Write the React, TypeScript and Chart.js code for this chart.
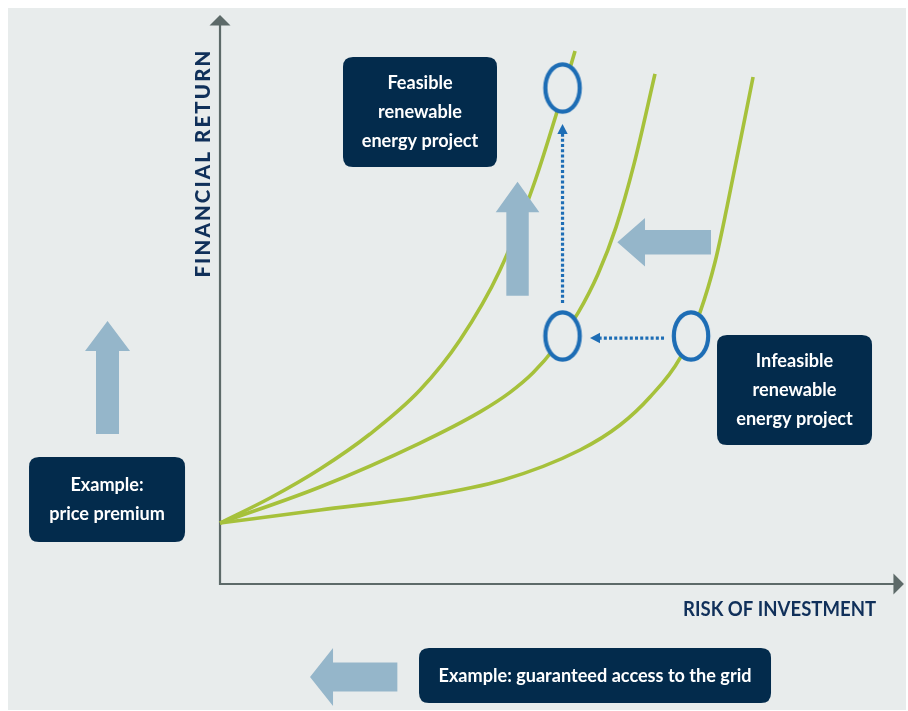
import React, { useEffect, useRef } from 'react';
import { Chart, registerables } from 'chart.js';

Chart.register(...registerables);

// ---------- data (x = risk of investment, y = financial return, 0–100 units at the axis arrows) ----------
const riskRange = [-31, 100.3];
const returnRange = [-22.14, 101.23];

const curve1Risk = [0, 7.31, 14.62, 21.93, 29.24, 35.09, 40.94, 46.06, 49.13, 51.91];
const curve1Return = [10.72, 15.11, 20.21, 26.36, 34.09, 42.88, 55.18, 70.83, 82.43, 93.67];

const curve2Risk = [0, 14.62, 29.24, 38.02, 42.4, 45.77, 48.98, 52.35, 55.27, 57.9, 60.53, 63.6];
const curve2Return = [10.72, 17.05, 24.78, 30.26, 33.69, 37.13, 41.57, 47.64, 54.49, 62.72, 73.79, 89.66];

const curve3Risk = [0, 14.62, 29.24, 41.38, 52.64, 58.49, 62.87, 67.26, 70.19, 72.38, 74.13, 77.94];
const curve3Return = [10.72, 13.01, 15.29, 18.28, 23.55, 27.94, 32.86, 39.72, 47.8, 56.59, 66.26, 89.1];

const projectRisk = [50.08, 50.08, 68.87];
const projectReturn = [87.17, 43.59, 43.59];

const shiftFromRisk = [50.08, 64.92];
const shiftFromReturn = [49.38, 43.23];
const shiftToRisk = [50.08, 54.1];
const shiftToReturn = [80.84, 43.23];

const policyFromRisk = [43.5, 71.79, -16.45, 25.93];
const policyFromReturn = [50.67, 60.05, 26.36, -16.34];
const policyToRisk = [43.5, 58.09, -16.45, 13.16];
const policyToReturn = [70.7, 60.05, 46.22, -16.34];

const boxRisk = [29.24, 84.0, -16.52, 54.83];
const boxReturn = [82.95, 34.09, 14.85, -16.08];
const boxLines = [
  ['Feasible', 'renewable', 'energy project'],
  ['Infeasible', 'renewable', 'energy project'],
  ['Example:', 'price premium'],
  ['Example: guaranteed access to the grid'],
];

const xAxisTitle = 'RISK OF INVESTMENT';
const yAxisTitle = 'FINANCIAL RETURN';
const xTitleAt = [95.92, -4.39];
const yTitleAt = [-2.49, 73.8];

// ---------- styles ----------
const BG = '#e8ecec';
const GREEN = '#a6c13b';
const NAVY = '#032b4c';
const ARROW_BLUE = '#95b6ca';
const DOT_BLUE = '#1d6db5';
const AXIS = '#5d6a69';
const LABEL = '#10305a';

const boxW = [154, 155, 156, 352];
const boxH = [110, 110, 85, 55];
const boxLineGap = 29;
const arrowHeadLen = [30.6, 27.7, 30, 23];
const arrowHeadHalf = [21.8, 24.2, 22.5, 29];
const arrowShaftHalf = [11.2, 12.2, 11.5, 14.5];

const BOX_FONT = '700 19.5px Lato, "Open Sans", sans-serif';
const XTITLE_FONT = '700 21px Lato, "Open Sans", sans-serif';
const YTITLE_FONT = '900 20.5px Lato, "Open Sans", sans-serif';

const pts = (xs: number[], ys: number[]) => xs.map((x, i) => ({ x, y: ys[i] }));

function makeRing() {
  const c = document.createElement('canvas');
  c.width = 44;
  c.height = 56;
  const g = c.getContext('2d')!;
  g.beginPath();
  g.ellipse(22, 28, 17.2, 23.6, 0, 0, Math.PI * 2);
  g.fillStyle = BG;
  g.fill();
  g.lineWidth = 4.2;
  g.strokeStyle = DOT_BLUE;
  g.stroke();
  return c;
}

function roundRect(ctx: CanvasRenderingContext2D, x: number, y: number, w: number, h: number, r: number) {
  ctx.beginPath();
  ctx.moveTo(x + r, y);
  ctx.lineTo(x + w - r, y);
  ctx.quadraticCurveTo(x + w, y, x + w, y + r);
  ctx.lineTo(x + w, y + h - r);
  ctx.quadraticCurveTo(x + w, y + h, x + w - r, y + h);
  ctx.lineTo(x + r, y + h);
  ctx.quadraticCurveTo(x, y + h, x, y + h - r);
  ctx.lineTo(x, y + r);
  ctx.quadraticCurveTo(x, y, x + r, y);
  ctx.closePath();
}

const decor = {
  id: 'decor',
  beforeDraw(chart: any) {
    const { ctx, width, height } = chart;
    ctx.save();
    ctx.fillStyle = BG;
    ctx.fillRect(0, 0, width, height);
    ctx.restore();
  },
  beforeDatasetsDraw(chart: any) {
    const { ctx } = chart;
    const xs = chart.scales.x;
    const ys = chart.scales.y;
    const ox = xs.getPixelForValue(0);
    const oy = ys.getPixelForValue(0);
    const xt = xs.getPixelForValue(100);
    const yt = ys.getPixelForValue(100);
    ctx.save();
    ctx.strokeStyle = AXIS;
    ctx.fillStyle = AXIS;
    ctx.lineWidth = 2.2;
    ctx.beginPath();
    ctx.moveTo(ox, yt + 8);
    ctx.lineTo(ox, oy);
    ctx.lineTo(xt - 8, oy);
    ctx.stroke();
    ctx.beginPath();
    ctx.moveTo(ox, yt);
    ctx.lineTo(ox - 10.5, yt + 10.5);
    ctx.lineTo(ox + 10.5, yt + 10.5);
    ctx.closePath();
    ctx.fill();
    ctx.beginPath();
    ctx.moveTo(xt, oy);
    ctx.lineTo(xt - 10.5, oy - 10.5);
    ctx.lineTo(xt - 10.5, oy + 10.5);
    ctx.closePath();
    ctx.fill();
    ctx.restore();
  },
  afterDatasetsDraw(chart: any) {
    const { ctx } = chart;
    const xs = chart.scales.x;
    const ys = chart.scales.y;
    const px = (v: number) => xs.getPixelForValue(v);
    const py = (v: number) => ys.getPixelForValue(v);
    ctx.save();

    // big policy arrows
    ctx.fillStyle = ARROW_BLUE;
    policyFromRisk.forEach((_, i) => {
      const ax = px(policyFromRisk[i]);
      const ay = py(policyFromReturn[i]);
      const bx = px(policyToRisk[i]);
      const by = py(policyToReturn[i]);
      const len = Math.hypot(bx - ax, by - ay);
      const ux = (bx - ax) / len;
      const uy = (by - ay) / len;
      const nx = -uy;
      const ny = ux;
      const cx = bx - ux * arrowHeadLen[i];
      const cy = by - uy * arrowHeadLen[i];
      const s = arrowShaftHalf[i];
      const h = arrowHeadHalf[i];
      ctx.beginPath();
      ctx.moveTo(ax + nx * s, ay + ny * s);
      ctx.lineTo(cx + nx * s, cy + ny * s);
      ctx.lineTo(cx + nx * h, cy + ny * h);
      ctx.lineTo(bx, by);
      ctx.lineTo(cx - nx * h, cy - ny * h);
      ctx.lineTo(cx - nx * s, cy - ny * s);
      ctx.lineTo(ax - nx * s, ay - ny * s);
      ctx.closePath();
      ctx.fill();
    });

    // dotted shift arrows
    shiftFromRisk.forEach((_, i) => {
      const ax = px(shiftFromRisk[i]);
      const ay = py(shiftFromReturn[i]);
      const bx = px(shiftToRisk[i]);
      const by = py(shiftToReturn[i]);
      const len = Math.hypot(bx - ax, by - ay);
      const ux = (bx - ax) / len;
      const uy = (by - ay) / len;
      const nx = -uy;
      const ny = ux;
      const head = 10;
      const cx = bx - ux * head;
      const cy = by - uy * head;
      ctx.strokeStyle = DOT_BLUE;
      ctx.lineWidth = 3.2;
      ctx.setLineDash([3, 2.2]);
      ctx.beginPath();
      ctx.moveTo(ax, ay);
      ctx.lineTo(cx, cy);
      ctx.stroke();
      ctx.setLineDash([]);
      ctx.fillStyle = DOT_BLUE;
      ctx.beginPath();
      ctx.moveTo(bx, by);
      ctx.lineTo(cx + nx * 5.2, cy + ny * 5.2);
      ctx.lineTo(cx - nx * 5.2, cy - ny * 5.2);
      ctx.closePath();
      ctx.fill();
    });

    // boxes
    ctx.font = BOX_FONT;
    const condense = 313 / ctx.measureText('Example: guaranteed access to the grid').width;
    boxRisk.forEach((_, i) => {
      const cx = px(boxRisk[i]);
      const cy = py(boxReturn[i]);
      ctx.fillStyle = NAVY;
      roundRect(ctx, cx - boxW[i] / 2, cy - boxH[i] / 2, boxW[i], boxH[i], 10);
      ctx.fill();
      const lines = boxLines[i];
      const top = cy - ((lines.length - 1) * boxLineGap) / 2;
      lines.forEach((t, j) => {
        ctx.save();
        ctx.translate(cx, top + j * boxLineGap);
        ctx.scale(condense, 1);
        ctx.font = BOX_FONT;
        ctx.fillStyle = '#ffffff';
        ctx.textAlign = 'center';
        ctx.textBaseline = 'middle';
        ctx.fillText(t, 0, 0);
        ctx.restore();
      });
    });

    // x axis title
    ctx.font = XTITLE_FONT;
    const xc = 193 / ctx.measureText(xAxisTitle).width;
    ctx.save();
    ctx.translate(px(xTitleAt[0]), py(xTitleAt[1]));
    ctx.scale(xc, 1);
    ctx.fillStyle = LABEL;
    ctx.textAlign = 'right';
    ctx.textBaseline = 'middle';
    ctx.fillText(xAxisTitle, 0, 0);
    ctx.restore();

    // y axis title (rotated, letter-spaced)
    ctx.save();
    ctx.translate(px(yTitleAt[0]), py(yTitleAt[1]));
    ctx.rotate(-Math.PI / 2);
    ctx.font = YTITLE_FONT;
    ctx.fillStyle = LABEL;
    ctx.textBaseline = 'middle';
    ctx.textAlign = 'left';
    const chars = yAxisTitle.split('');
    const widths = chars.map((c) => ctx.measureText(c).width);
    const raw = widths.reduce((a, b) => a + b, 0);
    const spacing = (227 - raw) / (chars.length - 1);
    let x = -227 / 2;
    chars.forEach((c, k) => {
      ctx.fillText(c, x, 0);
      x += widths[k] + spacing;
    });
    ctx.restore();

    ctx.restore();
  },
};

export default function App() {
  const ref = useRef<HTMLCanvasElement>(null);
  useEffect(() => {
    const canvas = ref.current!;
    const ring = makeRing();
    const curve = (xsv: number[], ysv: number[]) => ({
      data: pts(xsv, ysv),
      showLine: true,
      borderColor: GREEN,
      borderWidth: 3.6,
      pointRadius: 0,
      cubicInterpolationMode: 'monotone' as const,
      fill: false,
    });
    const chart = new Chart(canvas, {
      type: 'scatter',
      data: {
        datasets: [
          {
            data: pts(projectRisk, projectReturn),
            showLine: false,
            pointStyle: ring as any,
            pointRadius: 20,
            pointHoverRadius: 20,
          },
          curve(curve1Risk, curve1Return),
          curve(curve2Risk, curve2Return),
          curve(curve3Risk, curve3Return),
        ] as any,
      },
      options: {
        animation: false,
        responsive: false,
        events: [],
        layout: { padding: 0, autoPadding: false },
        plugins: { legend: { display: false }, tooltip: { enabled: false }, title: { display: false } },
        scales: {
          x: { type: 'linear', min: riskRange[0], max: riskRange[1], display: false },
          y: { type: 'linear', min: returnRange[0], max: returnRange[1], display: false },
        },
      } as any,
      plugins: [decor as any],
    });
    return () => chart.destroy();
  }, []);
  return (
    <div style={{ position: 'fixed', left: 8, top: 8, width: 898, height: 702 }}>
      <canvas ref={ref} width={898} height={702} style={{ display: 'block' }} />
    </div>
  );
}
